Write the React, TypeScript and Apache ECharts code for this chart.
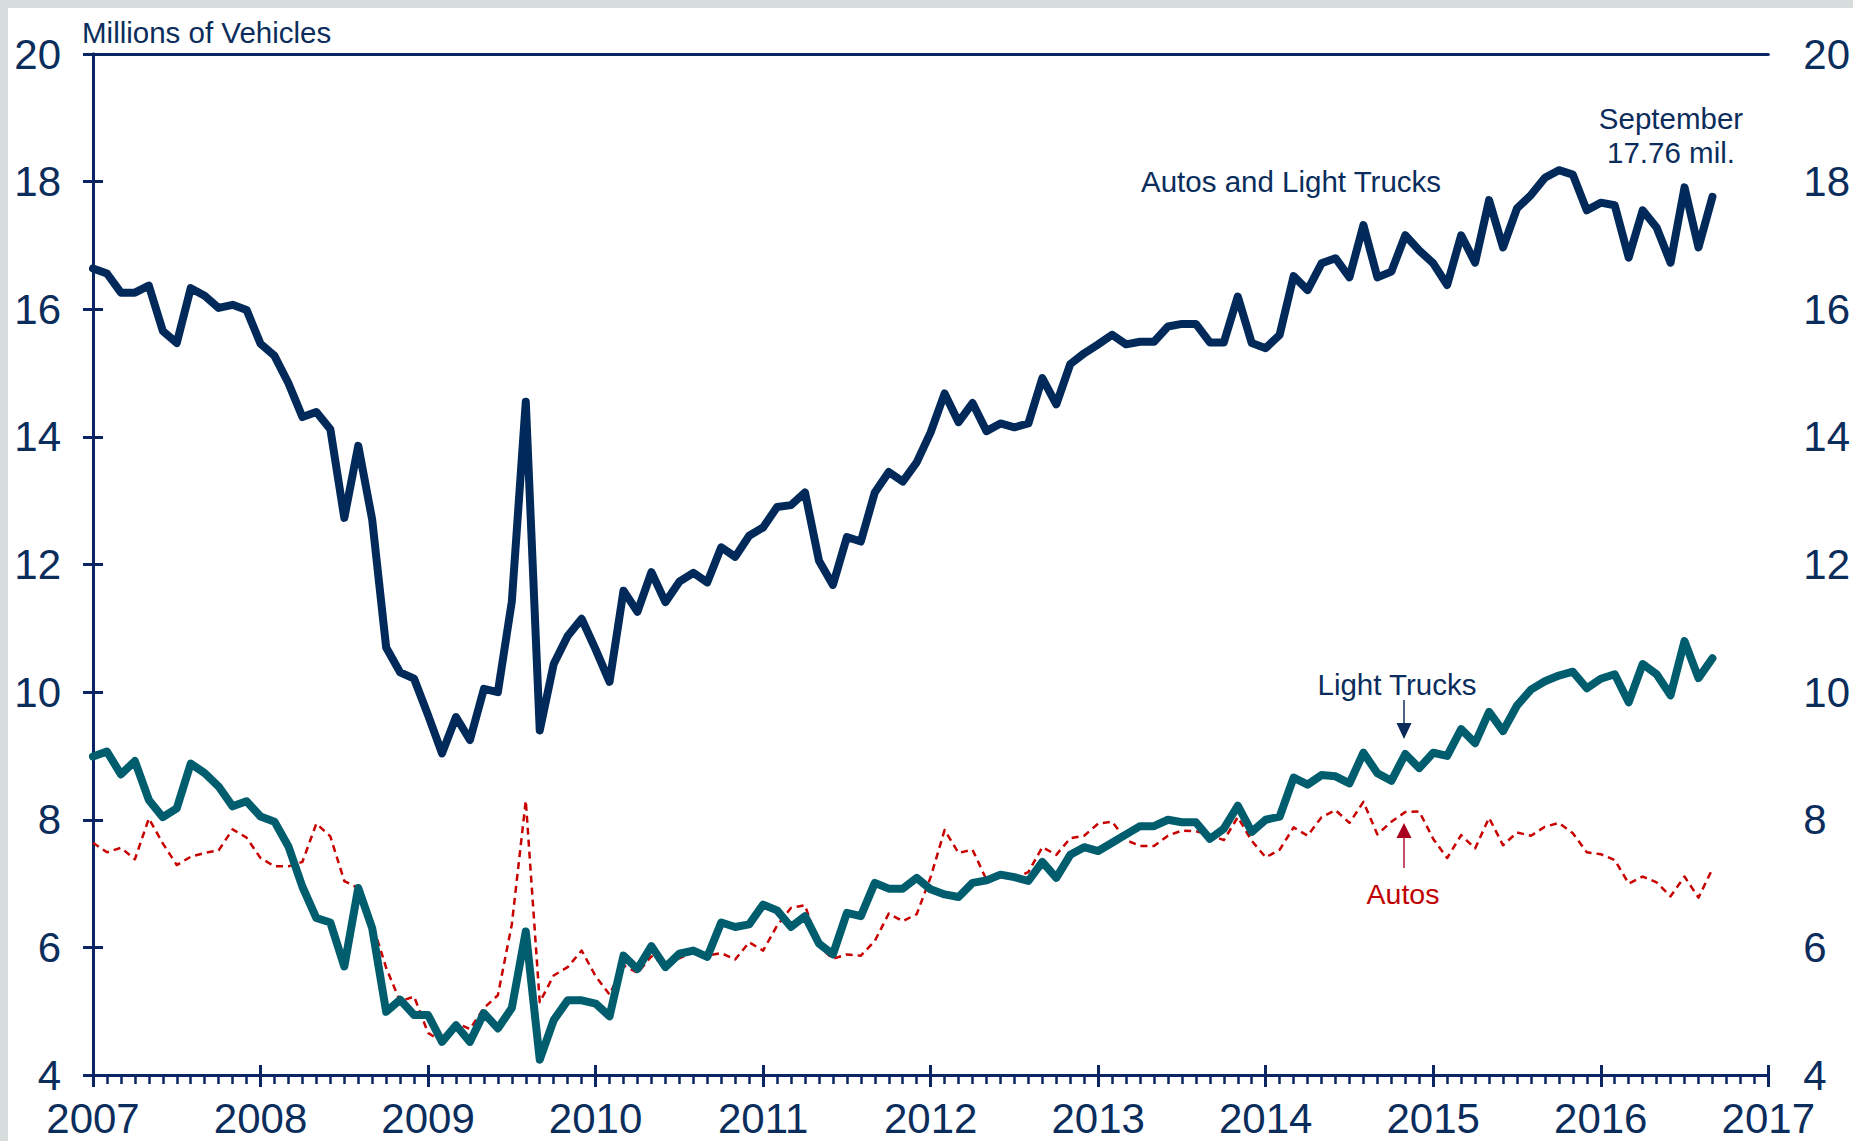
import React, { useEffect, useRef } from "react";
import * as echarts from "echarts";

// Monthly data, Jan 2007 (index 0) .. Sep 2016 (index 116), millions of vehicles (SAAR)
const START_YEAR = 2007;
const YEAR_TICKS = ["2007", "2008", "2009", "2010", "2011", "2012", "2013", "2014", "2015", "2016", "2017"];
const Y_TICKS = [4, 6, 8, 10, 12, 14, 16, 18, 20];

const autosAndLightTrucks = [
  16.64, 16.56, 16.26, 16.26, 16.37, 15.66, 15.47, 16.33, 16.21, 16.02, 16.07, 15.99,
  15.46, 15.27, 14.84, 14.31, 14.39, 14.12, 12.73, 13.86, 12.70, 10.70, 10.31, 10.21,
  9.64, 9.04, 9.61, 9.25, 10.05, 10.00, 11.42, 14.55, 9.40, 10.44, 10.88, 11.15,
  10.67, 10.16, 11.59, 11.26, 11.88, 11.41, 11.73, 11.87, 11.72, 12.27, 12.12, 12.45,
  12.58, 12.90, 12.93, 13.13, 12.06, 11.68, 12.43, 12.36, 13.13, 13.45, 13.30, 13.60,
  14.07, 14.68, 14.23, 14.53, 14.09, 14.21, 14.15, 14.21, 14.92, 14.51, 15.14, 15.31,
  15.45, 15.60, 15.45, 15.49, 15.49, 15.73, 15.77, 15.77, 15.48, 15.48, 16.20, 15.47,
  15.39, 15.60, 16.52, 16.30, 16.72, 16.80, 16.50, 17.32, 16.50, 16.59, 17.16, 16.92,
  16.72, 16.38, 17.16, 16.73, 17.71, 16.97, 17.58, 17.79, 18.06, 18.18, 18.11, 17.55,
  17.67, 17.63, 16.81, 17.55, 17.28, 16.73, 17.91, 16.97, 17.76,
];

const lightTrucks = [
  8.99, 9.07, 8.71, 8.92, 8.31, 8.04, 8.18, 8.88, 8.73, 8.52, 8.21, 8.29,
  8.05, 7.97, 7.58, 6.95, 6.46, 6.39, 5.70, 6.93, 6.30, 4.99, 5.18, 4.94,
  4.94, 4.52, 4.78, 4.52, 4.97, 4.73, 5.05, 6.25, 4.24, 4.86, 5.17, 5.17,
  5.12, 4.92, 5.87, 5.66, 6.02, 5.69, 5.90, 5.95, 5.85, 6.39, 6.32, 6.36,
  6.67, 6.58, 6.32, 6.49, 6.06, 5.89, 6.54, 6.49, 7.01, 6.92, 6.92, 7.09,
  6.91, 6.83, 6.79, 7.01, 7.05, 7.14, 7.10, 7.04, 7.34, 7.09, 7.45, 7.57,
  7.51, 7.64, 7.77, 7.90, 7.90, 8.00, 7.96, 7.96, 7.70, 7.86, 8.22, 7.81,
  8.00, 8.05, 8.66, 8.55, 8.70, 8.68, 8.57, 9.05, 8.73, 8.61, 9.03, 8.81,
  9.05, 9.00, 9.42, 9.20, 9.69, 9.39, 9.79, 10.04, 10.17, 10.26, 10.32, 10.06,
  10.21, 10.28, 9.84, 10.44, 10.28, 9.95, 10.80, 10.22, 10.53,
];

const autos = [
  7.64, 7.49, 7.56, 7.38, 8.02, 7.63, 7.29, 7.42, 7.48, 7.52, 7.85, 7.72,
  7.40, 7.27, 7.27, 7.34, 7.94, 7.74, 7.04, 6.93, 6.38, 5.68, 5.15, 5.23,
  4.66, 4.52, 4.82, 4.72, 5.05, 5.25, 6.36, 8.30, 5.14, 5.56, 5.69, 5.95,
  5.55, 5.26, 5.72, 5.60, 5.86, 5.72, 5.83, 5.92, 5.87, 5.91, 5.81, 6.08,
  5.95, 6.34, 6.62, 6.66, 6.02, 5.82, 5.89, 5.87, 6.10, 6.53, 6.41, 6.52,
  7.10, 7.84, 7.48, 7.53, 7.06, 7.10, 7.08, 7.18, 7.57, 7.45, 7.71, 7.75,
  7.94, 7.97, 7.68, 7.59, 7.59, 7.75, 7.83, 7.82, 7.76, 7.68, 8.04, 7.67,
  7.41, 7.53, 7.88, 7.75, 8.04, 8.15, 7.95, 8.28, 7.77, 7.97, 8.12, 8.13,
  7.70, 7.40, 7.76, 7.55, 8.03, 7.60, 7.80, 7.75, 7.89, 7.95, 7.79, 7.49,
  7.46, 7.37, 7.00, 7.11, 7.02, 6.80, 7.11, 6.78, 7.23,
];

const NAVY = "#012a5a";
const TEAL = "#005d6e";
const RED = "#c80000";
const AXIS = "#0a2464";
const TEXT = "#0b2d5c";
const FONT = "'Liberation Sans', Arial, sans-serif";
const TICK_FONT = 42;

export default function App() {
  const ref = useRef<HTMLDivElement>(null);

  useEffect(() => {
    if (!ref.current) return;
    const chart = echarts.init(ref.current, null, { renderer: "svg" });
    const months = (YEAR_TICKS.length - 1) * 12;
    const toPairs = (arr: number[]) => arr.map((v, i) => [i, v]);

    const yAxisBase = (position: "left" | "right", margin: number) => ({
      type: "value",
      position,
      min: Y_TICKS[0],
      max: Y_TICKS[Y_TICKS.length - 1],
      interval: Y_TICKS[1] - Y_TICKS[0],
      axisLine: { show: true, lineStyle: { color: AXIS, width: 3 } },
      axisTick: { show: true, inside: false, length: 10, lineStyle: { color: AXIS, width: 3 } },
      axisLabel: { show: true, fontSize: TICK_FONT, color: TEXT, fontFamily: FONT, margin },
      splitLine: { show: false },
    });

    const xBase = {
      type: "value",
      min: 0,
      max: months,
      interval: 12,
      splitLine: { show: false },
    };

    chart.setOption({
      animation: false,
      backgroundColor: "#ffffff",
      grid: { left: 93, right: 80, top: 54, bottom: 66, containLabel: false },
      xAxis: [
        {
          ...xBase,
          position: "bottom",
          axisLine: { show: true, onZero: false, lineStyle: { color: AXIS, width: 3 } },
          axisTick: { show: true, inside: false, length: 12, lineStyle: { color: AXIS, width: 3 } },
          minorTick: { show: true, splitNumber: 12, length: 9, lineStyle: { color: AXIS, width: 2.5 } },
          axisLabel: {
            show: true,
            fontSize: TICK_FONT,
            color: TEXT,
            fontFamily: FONT,
            margin: 22,
            formatter: (v: number) => YEAR_TICKS[Math.round(v / 12)] ?? String(START_YEAR + v / 12),
          },
        },
        {
          ...xBase,
          position: "bottom",
          axisLine: { show: false, onZero: false },
          axisTick: { show: true, inside: true, length: 10, lineStyle: { color: AXIS, width: 3 } },
          minorTick: { show: false },
          axisLabel: { show: false },
        },
        {
          ...xBase,
          position: "top",
          axisLine: { show: true, onZero: false, lineStyle: { color: AXIS, width: 3 } },
          axisTick: { show: false },
          minorTick: { show: false },
          axisLabel: { show: false },
        },
      ],
      yAxis: [yAxisBase("left", 32), yAxisBase("right", 35)],
      series: [
        {
          name: "Autos",
          type: "line",
          xAxisIndex: 0,
          yAxisIndex: 0,
          data: toPairs(autos),
          symbol: "none",
          z: 2,
          lineStyle: { color: RED, width: 2.5, type: [7, 5], join: "round" },
        },
        {
          name: "Light Trucks",
          type: "line",
          xAxisIndex: 0,
          yAxisIndex: 0,
          data: toPairs(lightTrucks),
          symbol: "none",
          z: 3,
          lineStyle: { color: TEAL, width: 8, join: "round", cap: "round" },
        },
        {
          name: "Autos and Light Trucks",
          type: "line",
          xAxisIndex: 0,
          yAxisIndex: 0,
          data: toPairs(autosAndLightTrucks),
          symbol: "none",
          z: 4,
          lineStyle: { color: NAVY, width: 8, join: "round", cap: "round" },
        },
      ],
      graphic: [
        { type: "rect", shape: { x: 0, y: 0, width: 1853, height: 8 }, style: { fill: "#d7dddd" }, silent: true },
        { type: "rect", shape: { x: 0, y: 0, width: 8, height: 1141 }, style: { fill: "#d7dddd" }, silent: true },
        {
          type: "text",
          x: 82,
          y: 32,
          style: { text: "Millions of Vehicles", font: `29.5px ${FONT}`, fill: TEXT, align: "left", verticalAlign: "middle" },
        },
        {
          type: "text",
          x: 1141,
          y: 181,
          style: { text: "Autos and Light Trucks", font: `29.5px ${FONT}`, fill: TEXT, align: "left", verticalAlign: "middle" },
        },
        {
          type: "text",
          x: 1671,
          y: 118,
          style: { text: "September", font: `29.5px ${FONT}`, fill: TEXT, align: "center", verticalAlign: "middle" },
        },
        {
          type: "text",
          x: 1671,
          y: 152,
          style: { text: "17.76 mil.", font: `29.5px ${FONT}`, fill: TEXT, align: "center", verticalAlign: "middle" },
        },
        {
          type: "text",
          x: 1397,
          y: 684,
          style: { text: "Light Trucks", font: `29.5px ${FONT}`, fill: TEXT, align: "center", verticalAlign: "middle" },
        },
        {
          type: "line",
          shape: { x1: 1404, y1: 700, x2: 1404, y2: 726 },
          style: { stroke: "#4d6485", lineWidth: 2 },
        },
        {
          type: "polygon",
          shape: { points: [[1396.5, 723], [1411.5, 723], [1404, 739]] },
          style: { fill: "#0a2a5a" },
        },
        {
          type: "line",
          shape: { x1: 1404, y1: 836, x2: 1404, y2: 868 },
          style: { stroke: "#c4506a", lineWidth: 2 },
        },
        {
          type: "polygon",
          shape: { points: [[1396.5, 838], [1411.5, 838], [1404, 823]] },
          style: { fill: "#a8001e" },
        },
        {
          type: "text",
          x: 1403,
          y: 894,
          style: { text: "Autos", font: `28.5px ${FONT}`, fill: "#c00000", align: "center", verticalAlign: "middle" },
        },
      ],
    });

    return () => chart.dispose();
  }, []);

  return (
    <div
      ref={ref}
      style={{ position: "fixed", left: 0, top: 0, width: 1853, height: 1141, background: "#ffffff" }}
    />
  );
}
